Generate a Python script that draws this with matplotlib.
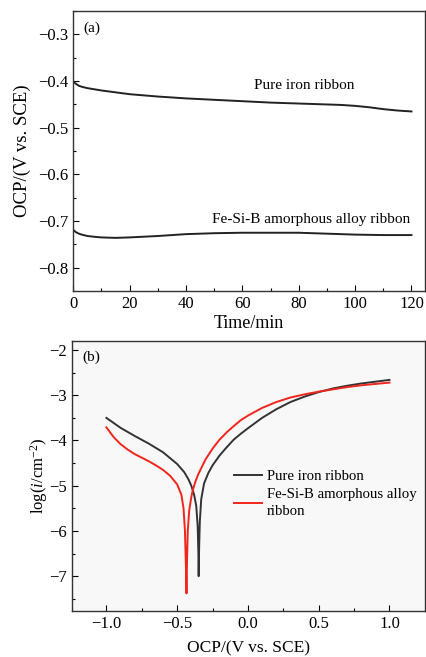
import numpy as np
import matplotlib
matplotlib.use("Agg")
import matplotlib.pyplot as plt
from matplotlib.ticker import MultipleLocator

plt.rcParams['font.family'] = ['Liberation Serif', 'DejaVu Serif']
plt.rcParams['mathtext.fontset'] = 'custom'
plt.rcParams['mathtext.rm'] = 'Liberation Serif'
plt.rcParams['mathtext.it'] = 'Liberation Serif:italic'
plt.rcParams['font.size'] = 12

# (a) open circuit potential vs time
t_iron = [0, 1, 2, 3, 5, 8, 10, 15, 20, 30, 40, 50, 60, 70, 80, 90, 95, 100, 105, 110, 115, 120]
ocp_iron = [-0.401, -0.406, -0.410, -0.412, -0.415, -0.418, -0.420, -0.424, -0.428, -0.433, -0.437,
            -0.440, -0.443, -0.446, -0.448, -0.450, -0.451, -0.453, -0.456, -0.460, -0.463, -0.465]
t_alloy = [0, 1, 2, 3, 5, 8, 10, 15, 20, 30, 40, 50, 60, 70, 80, 90, 100, 110, 120]
ocp_alloy = [-0.719, -0.724, -0.727, -0.729, -0.732, -0.734, -0.735, -0.736, -0.735, -0.732, -0.728,
             -0.726, -0.725, -0.725, -0.725, -0.727, -0.729, -0.730, -0.730]

# (b) polarization curves
e_iron = [-1.0, -0.9, -0.8, -0.7, -0.6, -0.5, -0.45, -0.42, -0.40, -0.38, -0.365, -0.355, -0.35,
          -0.348, -0.345, -0.34, -0.33, -0.31, -0.28, -0.25, -0.2, -0.15, -0.1, -0.05, 0.0,
          0.1, 0.2, 0.3, 0.4, 0.5, 0.6, 0.7, 0.8, 0.9, 1.0]
logi_iron = [-3.50, -3.72, -3.90, -4.07, -4.26, -4.52, -4.70, -4.86, -5.00, -5.20, -5.45, -5.90, -6.50,
             -7.00, -6.40, -5.80, -5.30, -4.95, -4.72, -4.55, -4.33, -4.15, -3.98, -3.85, -3.73,
             -3.50, -3.31, -3.15, -3.03, -2.93, -2.85, -2.79, -2.74, -2.70, -2.66]
e_alloy = [-1.0, -0.95, -0.9, -0.85, -0.8, -0.75, -0.7, -0.65, -0.6, -0.55, -0.5, -0.47, -0.455,
           -0.445, -0.438, -0.434, -0.43, -0.425, -0.415, -0.40, -0.39, -0.37, -0.35, -0.3, -0.25,
           -0.2, -0.15, -0.1, -0.05, 0.0, 0.1, 0.2, 0.3, 0.4, 0.5, 0.6, 0.7, 0.8, 0.9, 1.0]
logi_alloy = [-3.71, -3.92, -4.08, -4.20, -4.30, -4.38, -4.46, -4.55, -4.65, -4.78, -4.97, -5.20, -5.50,
              -6.00, -6.80, -7.38, -6.60, -6.00, -5.55, -5.25, -5.10, -4.90, -4.74, -4.42, -4.18,
              -3.98, -3.82, -3.68, -3.55, -3.45, -3.28, -3.15, -3.05, -2.98, -2.92, -2.87, -2.82,
              -2.78, -2.75, -2.72]

fig = plt.figure(figsize=(4.26, 6.57), dpi=100)
ax1 = fig.add_axes([0.172, 0.557, 0.825, 0.426])
ax2 = fig.add_axes([0.168, 0.070, 0.829, 0.411])

for ax in (ax1, ax2):
    ax.tick_params(which='both', direction='in', labelsize=12)
    ax.tick_params(which='major', length=4, width=0.8)
    ax.tick_params(which='minor', length=2.5, width=0.8)
    ax.tick_params(top=False, right=False)
    for s in ax.spines.values():
        s.set_linewidth(1.0)
        s.set_color('#333333')

ax1.plot(t_iron, ocp_iron, color='#222222', lw=1.4)
ax1.plot(t_alloy, ocp_alloy, color='#222222', lw=1.4)
ax1.set_xlim(0, 124.7)
ax1.set_ylim(-0.85, -0.25)
ax1.xaxis.set_major_locator(MultipleLocator(20))
ax1.xaxis.set_minor_locator(MultipleLocator(10))
ax1.yaxis.set_major_locator(MultipleLocator(0.1))
ax1.yaxis.set_minor_locator(MultipleLocator(0.05))
ax1.set_xlabel('Time/min', fontsize=13, labelpad=2)
ax1.set_ylabel('OCP/(V vs. SCE)', fontsize=13.5, labelpad=5)
ax1.text(0.03, 0.94, '(a)', transform=ax1.transAxes, fontsize=11, va='center')
ax1.text(82, -0.409, 'Pure iron ribbon', ha='center', va='center', fontsize=11)
ax1.text(84.5, -0.696, 'Fe-Si-B amorphous alloy ribbon', ha='center', va='center', fontsize=11)

ax2.set_facecolor('#f8f8f8')
ax2.plot(e_iron, logi_iron, color='#333333', lw=1.4, label='Pure iron ribbon')
ax2.plot(e_alloy, logi_alloy, color='#f0261c', lw=1.4, label='Fe-Si-B amorphous alloy\nribbon')
ax2.set_xlim(-1.246, 1.249)
ax2.set_ylim(-7.77, -1.8)
ax2.xaxis.set_major_locator(MultipleLocator(0.5))
ax2.xaxis.set_minor_locator(MultipleLocator(0.25))
ax2.yaxis.set_major_locator(MultipleLocator(1))
ax2.yaxis.set_minor_locator(MultipleLocator(0.5))
ax2.set_xlabel('OCP/(V vs. SCE)', fontsize=12.5, labelpad=6)
ax2.set_ylabel(r'log($\mathit{i}$/cm$^{-2}$)', fontsize=12, labelpad=-1)
ax2.text(0.03, 0.94, '(b)', transform=ax2.transAxes, fontsize=11, va='center')
leg = ax2.legend(loc='upper left', bbox_to_anchor=(0.44, 0.55), frameon=False, fontsize=10.6,
                 handlelength=1.9, handletextpad=0.3, borderpad=0, labelspacing=0.3)
leg.get_texts()[1].set_linespacing(1.45)

fig.savefig('out.png', dpi=100)
